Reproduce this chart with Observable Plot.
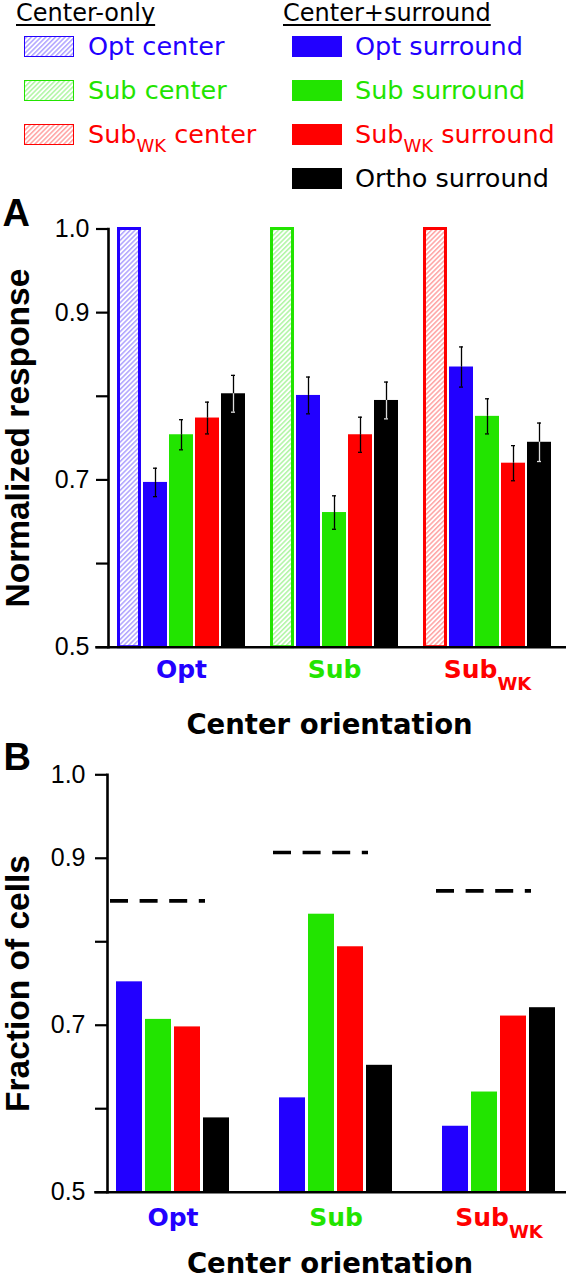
<!DOCTYPE html>
<html>
<head>
<meta charset="utf-8">
<script src="https://cdn.jsdelivr.net/npm/d3@7"></script>
<script src="https://cdn.jsdelivr.net/npm/@observablehq/plot@0.6"></script>
<style>
  body { margin: 0; background: #fff; }
  #root { position: relative; width: 566px; height: 1280px; overflow: hidden; background: #fff; }
  #root > svg { position: absolute; left: 0; }
</style>
</head>
<body>
<div id="root"></div>
<script>
// ---------- data ----------
const groups = ["Opt", "Sub", "SubWK"];
const groupLabels = ["Opt", "Sub", "Sub_{WK}"];
const seriesA = ["center", "Opt surround", "Sub surround", "SubWK surround", "Ortho surround"];
const seriesB = ["Opt surround", "Sub surround", "SubWK surround", "Ortho surround"];

// Panel A: normalized response (center-only = 1.0)
const centerResp        = [1.0, 1.0, 1.0];
const optSurroundResp   = [0.697, 0.801, 0.835];
const subSurroundResp   = [0.754, 0.661, 0.776];
const wkSurroundResp    = [0.774, 0.754, 0.720];
const orthoSurroundResp = [0.803, 0.795, 0.745];
const optSurroundErr    = [0.017, 0.022, 0.024];
const subSurroundErr    = [0.018, 0.020, 0.021];
const wkSurroundErr     = [0.019, 0.021, 0.021];
const orthoSurroundErr  = [0.022, 0.022, 0.023];

// Panel B: fraction of cells
const optFrac   = [0.752, 0.613, 0.579];
const subFrac   = [0.707, 0.833, 0.620];
const wkFrac    = [0.698, 0.794, 0.711];
const orthoFrac = [0.589, 0.652, 0.721];
const dashFrac  = [0.849, 0.907, 0.861];

const yTicks = [0.5, 0.6, 0.7, 0.8, 0.9, 1.0];
const yTickLabels = ["0.5", "", "0.7", "", "0.9", "1.0"];

const legendLeftTitle = "Center-only";
const legendRightTitle = "Center+surround";
const legendLeft = ["Opt center", "Sub center", "Sub_{WK} center"];
const legendRight = ["Opt surround", "Sub surround", "Sub_{WK} surround", "Ortho surround"];

const yLabelA = "Normalized response";
const yLabelB = "Fraction of cells";
const xLabel = "Center orientation";

// ---------- styles ----------
const blue = "#2200ff", green = "#22e400", red = "#ff0000", black = "#000000";
const groupColors = [blue, green, red];
const surroundColors = [blue, green, red, black];
const boldFont = "'DejaVu Sans', sans-serif";
const textFont = "'DejaVu Sans', sans-serif";
const tickFont = "'Liberation Sans', Arial, Helvetica, sans-serif";

// ---------- tables ----------
const surroundRespA = [optSurroundResp, subSurroundResp, wkSurroundResp, orthoSurroundResp];
const surroundErrA = [optSurroundErr, subSurroundErr, wkSurroundErr, orthoSurroundErr];
const centerRowsA = groups.map((g, gi) => ({group: g, gi, series: "center", value: centerResp[gi]}));
const surroundRowsA = groups.flatMap((g, gi) => seriesB.map((s, si) => ({
  group: g, gi, series: s, si, value: surroundRespA[si][gi], err: surroundErrA[si][gi]
})));
const fracB = [optFrac, subFrac, wkFrac, orthoFrac];
const rowsB = groups.flatMap((g, gi) => seriesB.map((s, si) => ({group: g, gi, series: s, si, value: fracB[si][gi]})));
const dashRows = groups.map((g, gi) => ({group: g, gi, value: dashFrac[gi]}));
const labelRows = groups.map((g, gi) => ({group: g, gi, label: groupLabels[gi]}));
const tickLabelOf = new Map(yTicks.map((t, i) => [t, yTickLabels[i]]));
const yMin = yTicks[0];

// ---------- helpers ----------
function setRichText(textEl, label, subDy, subSize) {
  const m = /^(.*)_\{(.*)\}(.*)$/.exec(label);
  const t = d3.select(textEl);
  t.text(null);
  if (!m) { t.text(label); return; }
  t.append("tspan").text(m[1]);
  t.append("tspan").attr("dy", subDy).attr("font-size", subSize).text(m[2]);
  if (m[3]) t.append("tspan").attr("dy", -subDy).text(m[3]);
}
function fixSubscripts(svg, subDy, subSize) {
  svg.querySelectorAll("text").forEach(el => {
    if (/_\{/.test(el.textContent)) setRichText(el, el.textContent, subDy, subSize);
  });
}

const root = d3.select("#root");

// ---------- legend (and hatch patterns) ----------
const leg = root.append("svg").attr("width", 566).attr("height", 192).style("top", "0px");
const defs = leg.append("defs");
groupColors.forEach((c, i) => {
  const p = defs.append("pattern").attr("id", `hatch${i}`)
    .attr("patternUnits", "userSpaceOnUse").attr("width", 3.4).attr("height", 3.4)
    .attr("patternTransform", "rotate(45)");
  p.append("rect").attr("width", 3.4).attr("height", 3.4).attr("fill", "white");
  p.append("line").attr("x1", 0.8).attr("y1", 0).attr("x2", 0.8).attr("y2", 3.4)
    .attr("stroke", c).attr("stroke-width", 1.1).attr("stroke-opacity", 0.5);
});
function title(x, label) {
  const t = leg.append("text").attr("x", x).attr("y", 21).attr("font-family", textFont)
    .attr("font-size", 24).attr("fill", black).text(label);
  const w = t.node().getComputedTextLength();
  leg.append("line").attr("x1", x).attr("x2", x + w).attr("y1", 25).attr("y2", 25)
    .attr("stroke", black).attr("stroke-width", 2);
}
title(16, legendLeftTitle);
title(283, legendRightTitle);
const rowTop = i => 36 + i * 44;
legendLeft.forEach((label, i) => {
  leg.append("rect").attr("x", 24.5).attr("y", rowTop(i) + 0.5).attr("width", 49).attr("height", 20)
    .attr("fill", `url(#hatch${i})`).attr("stroke", groupColors[i]).attr("stroke-width", 1);
  const t = leg.append("text").attr("x", 88).attr("y", rowTop(i) + 19).attr("font-family", textFont)
    .attr("font-size", 25.5).attr("fill", groupColors[i]);
  setRichText(t.node(), label, 9, 18);
});
legendRight.forEach((label, i) => {
  leg.append("rect").attr("x", 292).attr("y", rowTop(i)).attr("width", 50).attr("height", 21)
    .attr("fill", surroundColors[i]);
  const t = leg.append("text").attr("x", 355).attr("y", rowTop(i) + 19).attr("font-family", textFont)
    .attr("font-size", 25.5).attr("fill", surroundColors[i]);
  setRichText(t.node(), label, 9, 18);
});

// ---------- common marks ----------
function axisMarks(yLabel, letter, opts) {
  return [
    Plot.frame({facet: "super", anchor: "bottom", stroke: black, strokeWidth: 2.6, insetLeft: -12, insetRight: -8}),
    Plot.frame({facet: "super", anchor: "left", stroke: black, strokeWidth: 2.6}),
    Plot.axisY({ticks: yTicks, tickFormat: d => tickLabelOf.get(d), tickSize: 12,
      tickPadding: opts.tickPadding, strokeWidth: 2.2, fontSize: 25, fontFamily: tickFont, fill: black, label: null}),
    Plot.text([letter], {facet: "super", frameAnchor: "top-left", textAnchor: "start", lineAnchor: "bottom",
      dx: opts.letterDx, dy: opts.letterDy, fontSize: 38, fontWeight: "bold", fontFamily: tickFont, fill: black}),
    Plot.text([yLabel], {facet: "super", frameAnchor: "left", textAnchor: "middle", rotate: -90, lineAnchor: "bottom",
      dx: opts.yLabelDx, dy: opts.yLabelDy, fontSize: 33.5, fontWeight: "bold", fontFamily: tickFont, fill: black}),
    Plot.text([xLabel], {facet: "super", frameAnchor: "bottom", textAnchor: "middle", lineAnchor: "bottom",
      dx: opts.xLabelDx, dy: opts.xLabelDy, fontSize: 27.5, fontWeight: "bold", fontFamily: boldFont, fill: black}),
    Plot.text(labelRows, {fx: "group", text: "label", frameAnchor: "bottom", textAnchor: "middle", lineAnchor: "bottom",
      dy: opts.groupLabelDy, fontSize: 25, fontWeight: "bold", fontFamily: boldFont, fill: d => groupColors[d.gi]})
  ];
}

// ---------- Panel A ----------
const plotA = Plot.plot({
  width: 566, height: 555,
  marginLeft: 107, marginRight: 4.5, marginTop: 38.5, marginBottom: 98.3,
  style: {fontFamily: tickFont, fontSize: "25px", background: "transparent", overflow: "visible"},
  fx: {domain: groups, paddingInner: 0.0487, paddingOuter: 0, axis: null, label: null},
  x: {domain: seriesA, paddingInner: 0.08, paddingOuter: 0.345, axis: null, label: null},
  y: {domain: [0.5, 1.0], axis: null, label: null},
  color: {type: "identity"},
  marks: [
    Plot.barY(centerRowsA, {fx: "group", x: "series", y1: yMin, y2: "value",
      fill: d => `url(#hatch${d.gi})`, stroke: d => groupColors[d.gi], strokeWidth: 3, insetLeft: 1.5, insetRight: 1.5}),
    Plot.barY(surroundRowsA, {fx: "group", x: "series", y1: yMin, y2: "value", fill: d => surroundColors[d.si]}),
    Plot.ruleX(surroundRowsA, {fx: "group", x: "series", y1: "value", y2: d => d.value + d.err, stroke: black, strokeWidth: 1.3}),
    Plot.ruleX(surroundRowsA, {fx: "group", x: "series", y1: d => d.value - d.err, y2: "value",
      stroke: d => d.si === 3 ? "#dddddd" : black, strokeWidth: 1.3}),
    Plot.tickY(surroundRowsA, {fx: "group", x: "series", y: d => d.value + d.err, stroke: black, strokeWidth: 1.3, insetLeft: 10, insetRight: 10}),
    Plot.tickY(surroundRowsA, {fx: "group", x: "series", y: d => d.value - d.err,
      stroke: d => d.si === 3 ? "#dddddd" : black, strokeWidth: 1.3, insetLeft: 10, insetRight: 10}),
    ...axisMarks(yLabelA, "A", {tickPadding: 7, letterDx: -106, letterDy: -3.5, yLabelDx: -80, yLabelDy: 0,
      xLabelDx: -5, xLabelDy: 86.3, groupLabelDy: 30.3})
  ]
});
fixSubscripts(plotA, 12, 18);
plotA.style.top = "190px";
root.node().appendChild(plotA);

// ---------- Panel B ----------
const plotB = Plot.plot({
  width: 566, height: 540,
  marginLeft: 106, marginRight: 1.4, marginTop: 34.3, marginBottom: 88.3,
  style: {fontFamily: tickFont, fontSize: "25px", background: "transparent", overflow: "visible"},
  fx: {domain: groups, paddingInner: 0.197, paddingOuter: 0, axis: null, label: null},
  x: {domain: seriesB, paddingInner: 0.107, paddingOuter: 0.258, axis: null, label: null},
  y: {domain: [0.5, 1.0], axis: null, label: null},
  color: {type: "identity"},
  marks: [
    Plot.barY(rowsB, {fx: "group", x: "series", y1: yMin, y2: "value", fill: d => surroundColors[d.si]}),
    Plot.ruleY(dashRows, {fx: "group", y: "value", x1: () => seriesB[0], x2: () => seriesB[2],
      stroke: black, strokeWidth: 3.6, strokeDasharray: "18,11.6", insetLeft: -6, insetRight: -5}),
    ...axisMarks(yLabelB, "B", {tickPadding: 10, letterDx: -104, letterDy: -5, yLabelDx: -79, yLabelDy: 0,
      xLabelDx: -6, xLabelDy: 80.5, groupLabelDy: 33.3})
  ]
});
fixSubscripts(plotB, 12, 18);
plotB.style.top = "740px";
root.node().appendChild(plotB);
</script>
</body>
</html>
